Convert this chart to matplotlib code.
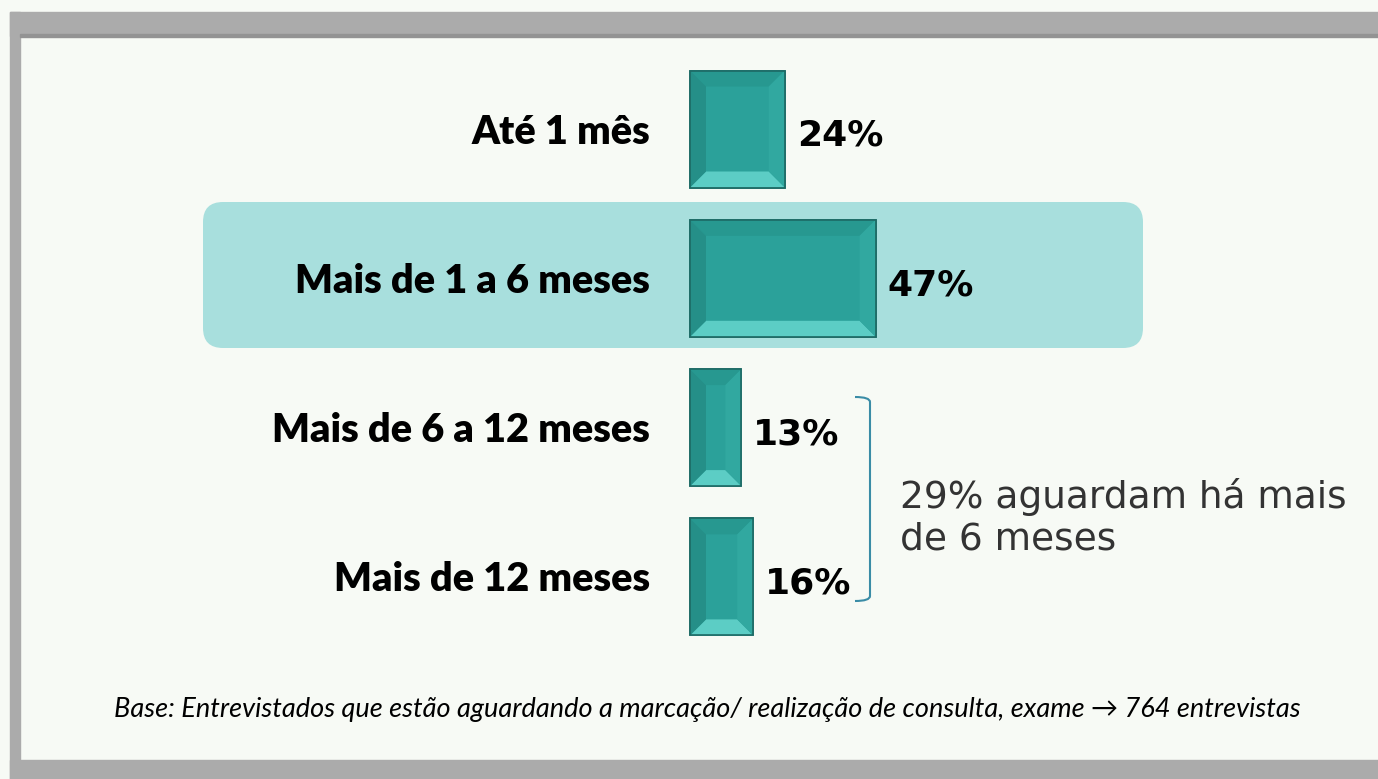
import matplotlib
matplotlib.use("Agg")
import matplotlib.pyplot as plt
from matplotlib.patches import Polygon, FancyBboxPatch, Rectangle
from matplotlib.path import Path
from matplotlib.patches import PathPatch

# dados
categorias = ["Até 1 mês", "Mais de 1 a 6 meses", "Mais de 6 a 12 meses", "Mais de 12 meses"]
valores = [24, 47, 13, 16]
rotulos = ["24%", "47%", "13%", "16%"]
nota = "29% aguardam há mais\nde 6 meses"
rodape = "Base: Entrevistados que estão aguardando a marcação/ realização de consulta, exame \u2192 764 entrevistas"

W, H = 1378, 779
fig = plt.figure(figsize=(W / 100, H / 100), dpi=100)
fig.patch.set_facecolor("#f7faf5")

# escala: x=0 em 690px, 3.95 px por %; categorias a cada 149.3 px a partir de 129px
px_pct = 3.95
px_cat = 149.3
ax = fig.add_axes([0, 0, 1, 1])
ax.set_xlim(-690 / px_pct, (W - 690) / px_pct)
ax.set_ylim((H - 129) / px_cat, -129 / px_cat)
ax.axis("off")
ax.patch.set_alpha(0)

# moldura cinza
borda = "#ababab"
fig.patches.append(Rectangle((10, H - 36), W - 10, 24, transform=None, color=borda, zorder=0))
fig.patches.append(Rectangle((10, 0), 10, H - 12, transform=None, color=borda, zorder=0))
fig.patches.append(Rectangle((10, 0), W - 10, 19, transform=None, color=borda, zorder=0))
fig.patches.append(Rectangle((20, H - 37), W - 20, 3, transform=None, color="#939393", zorder=0))

# faixa de destaque
destaque = FancyBboxPatch((2.03, (H - 348) / 100), 9.40, 1.46,
                          boxstyle="round,pad=0,rounding_size=0.2",
                          transform=fig.dpi_scale_trans, facecolor="#a8dfdd",
                          edgecolor="none", zorder=0)
ax.add_patch(destaque)

pos = list(range(len(categorias)))
barras = ax.barh(pos, valores, height=117 / px_cat, left=0, color="#2ba19a",
                 edgecolor="#1d6a65", linewidth=1.2, zorder=2)

# chanfro das barras
bx = 16 / px_pct
by = 16 / px_cat
for b in barras:
    x0, y0 = b.get_x(), b.get_y()
    x1, y1 = x0 + b.get_width(), y0 + b.get_height()
    ix0, ix1, iy0, iy1 = x0 + bx, x1 - bx, y0 + by, y1 - by
    lados = [
        ([(x0, y0), (x1, y0), (ix1, iy0), (ix0, iy0)], "#279890"),  # topo
        ([(x0, y1), (x1, y1), (ix1, iy1), (ix0, iy1)], "#5ccdc5"),  # base
        ([(x0, y0), (ix0, iy0), (ix0, iy1), (x0, y1)], "#258f88"),  # esquerda
        ([(x1, y0), (ix1, iy0), (ix1, iy1), (x1, y1)], "#31a8a0"),  # direita
    ]
    for pts, cor in lados:
        ax.add_patch(Polygon(pts, closed=True, facecolor=cor, edgecolor="none", zorder=3))
    ax.add_patch(Rectangle((x0, y0), b.get_width(), b.get_height(), fill=False,
                           edgecolor="#1d6a65", linewidth=1.2, zorder=4))

# textos
for i, (cat, v, r) in enumerate(zip(categorias, valores, rotulos)):
    ax.text(-40 / px_pct, i + 3 / px_cat, cat, ha="right", va="center",
            fontsize=28.5, fontweight="heavy", family="Lato", color="black", zorder=5)
    ax.text(v + 12 / px_pct, i + 7 / px_cat, r, ha="left", va="center",
            fontsize=26, fontweight="bold", family="DejaVu Sans", color="black", zorder=5)

# chave
xk = (870 - 690) / px_pct
xa = (855 - 690) / px_pct
ya = (397 - 129) / px_cat
yb = (601 - 129) / px_cat
dk = 5 / px_cat
verts = [(xa, ya), (xk, ya), (xk, ya + dk), (xk, yb - dk), (xk, yb), (xa, yb)]
codes = [Path.MOVETO, Path.CURVE3, Path.CURVE3, Path.LINETO, Path.CURVE3, Path.CURVE3]
ax.add_patch(PathPatch(Path(verts, codes), fill=False, edgecolor="#3a8ca6", linewidth=1.5, zorder=5))

ax.text((900 - 690) / px_pct, (518 - 129) / px_cat, nota, ha="left", va="center",
        fontsize=27, family="DejaVu Sans", color="#333333", linespacing=1.2, zorder=5)

fig.text(707 / W, 1 - 709 / H, rodape, ha="center", va="center", fontsize=19.5,
         style="italic", family=["Lato", "DejaVu Sans"], color="black")

fig.savefig("out.png", dpi=100, facecolor=fig.get_facecolor())
